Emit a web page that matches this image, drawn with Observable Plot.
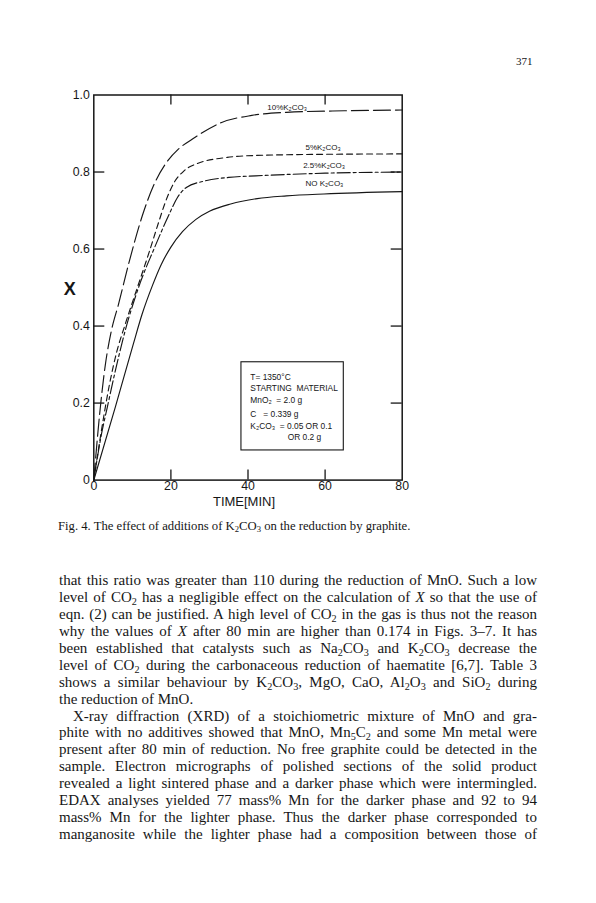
<!DOCTYPE html>
<html><head><meta charset="utf-8">
<script src="https://cdn.jsdelivr.net/npm/d3@7"></script>
<script src="https://cdn.jsdelivr.net/npm/@observablehq/plot@0.6"></script>
<style>
body{margin:0;background:#fff;}
#page{position:relative;width:596px;height:903px;overflow:hidden;background:#fff;color:#161616;}
#chart{position:absolute;left:0;top:0;}
.pg{position:absolute;left:516px;top:56.4px;font:11px/11px "Liberation Serif","Times New Roman",serif;}
.cap{position:absolute;left:58px;top:518.5px;font:12.7px/14px "Liberation Serif","Times New Roman",serif;white-space:nowrap;}
.txt{position:absolute;left:59px;top:572.4px;width:478px;font:15px "Liberation Serif","Times New Roman",serif;}
.txt div{height:16.9px;line-height:16.9px;text-align:justify;text-align-last:justify;}
.txt div.last{text-align-last:left;}
.txt div.ind{text-indent:14px;}
sub{font-size:.68em;line-height:0;vertical-align:baseline;position:relative;top:.3em;}
</style></head>
<body>
<div id="page">
  <div id="chart"></div>
  <div class="pg">371</div>
  <div class="cap">Fig. 4. The effect of additions of K<sub>2</sub>CO<sub>3</sub> on the reduction by graphite.</div>
  <div class="txt">
    <div>that this ratio was greater than 110 during the reduction of MnO. Such a low</div>
    <div>level of CO<sub>2</sub> has a negligible effect on the calculation of <i>X</i> so that the use of</div>
    <div>eqn. (2) can be justified. A high level of CO<sub>2</sub> in the gas is thus not the reason</div>
    <div>why the values of <i>X</i> after 80 min are higher than 0.174 in Figs. 3–7. It has</div>
    <div>been established that catalysts such as Na<sub>2</sub>CO<sub>3</sub> and K<sub>2</sub>CO<sub>3</sub> decrease the</div>
    <div>level of CO<sub>2</sub> during the carbonaceous reduction of haematite [6,7]. Table 3</div>
    <div>shows a similar behaviour by K<sub>2</sub>CO<sub>3</sub>, MgO, CaO, Al<sub>2</sub>O<sub>3</sub> and SiO<sub>2</sub> during</div>
    <div class="last">the reduction of MnO.</div>
    <div class="ind">X-ray diffraction (XRD) of a stoichiometric mixture of MnO and gra-</div>
    <div>phite with no additives showed that MnO, Mn<sub>5</sub>C<sub>2</sub> and some Mn metal were</div>
    <div>present after 80 min of reduction. No free graphite could be detected in the</div>
    <div>sample. Electron micrographs of polished sections of the solid product</div>
    <div>revealed a light sintered phase and a darker phase which were intermingled.</div>
    <div>EDAX analyses yielded 77 mass% Mn for the darker phase and 92 to 94</div>
    <div>mass% Mn for the lighter phase. Thus the darker phase corresponded to</div>
    <div>manganosite while the lighter phase had a composition between those of</div>
  </div>
</div>
<script>
// ---- data ----
const seriesNames = ["10%", "5%", "2.5%", "NO"];

const t10  = [0, 1.5, 3, 4.5, 6.5, 9, 12.6, 15.5, 18.6, 22, 25.5, 33, 41, 50, 65, 80];
const x10  = [0, 0.17, 0.30, 0.385, 0.46, 0.56, 0.687, 0.765, 0.821, 0.86, 0.885, 0.928, 0.947, 0.955, 0.959, 0.961];

const t5   = [0, 2, 4, 6, 8, 11.3, 14.3, 16.9, 18.5, 20.8, 23.4, 26.8, 34.6, 42, 60, 80];
const x5   = [0, 0.13, 0.245, 0.335, 0.40, 0.50, 0.59, 0.672, 0.72, 0.772, 0.803, 0.822, 0.838, 0.843, 0.846, 0.847];

const t25  = [0, 2, 3.5, 5.5, 8.2, 12.1, 15.6, 19.4, 21.7, 24, 28.5, 35, 42, 60, 80];
const x25  = [0, 0.12, 0.189, 0.28, 0.39, 0.514, 0.60, 0.687, 0.734, 0.76, 0.776, 0.786, 0.79, 0.797, 0.80];

const tNo  = [0, 5.6, 10.3, 12.5, 15.2, 17.5, 20, 23, 26.5, 30, 35.5, 42.4, 50, 59.7, 80];
const xNo  = [0, 0.19, 0.355, 0.43, 0.505, 0.56, 0.605, 0.645, 0.677, 0.698, 0.717, 0.731, 0.738, 0.743, 0.749];

const xTickVals = [0, 20, 40, 60, 80];
const yTickVals = [0, 0.2, 0.4, 0.6, 0.8, 1.0];
const innerXTicks = [20, 40, 60];
const innerYTicks = [0.2, 0.4, 0.6, 0.8];

const curveLabels = ["10%K₂CO₃", "5%K₂CO₃", "2.5%K₂CO₃", "NO K₂CO₃"];
const curveLabelT = [45.0, 54.9, 54.3, 54.9];
const curveLabelX = [0.969, 0.864, 0.817, 0.771];

const boxT = [38.3, 64.85];
const boxX = [0.077, 0.306];
const boxLines = ["T= 1350°C", "STARTING  MATERIAL", "MnO₂  = 2.0 g", "C   = 0.339 g", "K₂CO₃  = 0.05 OR 0.1", "OR 0.2 g"];
const boxLineT = [40.6, 40.6, 40.6, 40.6, 40.6, 50.3];
const boxLineX = [0.267, 0.239, 0.207, 0.172, 0.139, 0.111];

// ---- build rows ----
const seriesT = [t10, t5, t25, tNo];
const seriesX = [x10, x5, x25, xNo];
const dashes = ["17,5", "6,4", "13,3,3,3", null];
const rows = seriesNames.flatMap((s, i) => seriesT[i].map((t, j) => ({series: s, t, X: seriesX[i][j]})));

const W = 596, H = 512;
const mL = 93.3, mR = 194.3, mT = 94.5, mB = 32.4;
const innerW = W - mL - mR, innerH = H - mT - mB;
const ink = "#161616";

const lineMarks = seriesNames.map((s, i) => Plot.line(rows.filter(r => r.series === s), {
  x: "t", y: "X", stroke: ink, strokeWidth: 1.15, curve: "monotone-x",
  strokeDasharray: dashes[i] || undefined
}));

const chart = Plot.plot({
  width: W, height: H,
  marginLeft: mL, marginRight: mR, marginTop: mT, marginBottom: mB,
  x: {domain: [0, 80], label: null},
  y: {domain: [0, 1], label: null},
  style: {fontFamily: "'Liberation Sans', Arial, sans-serif", fontSize: "12.3px", color: ink, background: "transparent", overflow: "visible"},
  marks: [
    Plot.rect([0], {x1: () => boxT[0], x2: () => boxT[1], y1: () => boxX[0], y2: () => boxX[1], fill: "white", stroke: ink, strokeWidth: 1.1}),
    ...lineMarks,
    Plot.frame({stroke: ink, strokeWidth: 1.5}),
    Plot.tickX(innerXTicks, {x: d => d, insetTop: innerH - 10, stroke: ink, strokeWidth: 1.3}),
    Plot.tickX(innerXTicks, {x: d => d, insetBottom: innerH - 10, stroke: ink, strokeWidth: 1.3}),
    Plot.tickY(innerYTicks, {y: d => d, insetRight: innerW - 11, stroke: ink, strokeWidth: 1.3}),
    Plot.tickY(innerYTicks, {y: d => d, insetLeft: innerW - 11, stroke: ink, strokeWidth: 1.3}),
    Plot.axisX(xTickVals, {tickSize: 0, tickPadding: 1.5, tickFormat: d => String(d), label: null}),
    Plot.axisY(yTickVals, {tickSize: 0, tickPadding: 4, tickFormat: d => d === 0 ? "0" : d.toFixed(1), label: null}),
    Plot.text(["TIME[MIN]"], {frameAnchor: "bottom", lineAnchor: "middle", dy: 21.5, dx: -4, fontSize: 13, fill: ink}),
    Plot.text(["X"], {frameAnchor: "left", lineAnchor: "middle", dx: -30, dy: 2, fontSize: 18, fontWeight: "bold", fill: ink}),
    Plot.text(curveLabels, {x: (d, i) => curveLabelT[i], y: (d, i) => curveLabelX[i], text: d => d, textAnchor: "start", fontSize: 8, fill: ink}),
    Plot.text(boxLines, {x: (d, i) => boxLineT[i], y: (d, i) => boxLineX[i], text: d => d, textAnchor: "start", fontSize: 8.4, fill: ink})
  ]
});
document.getElementById("chart").appendChild(chart);
</script>
</body></html>
